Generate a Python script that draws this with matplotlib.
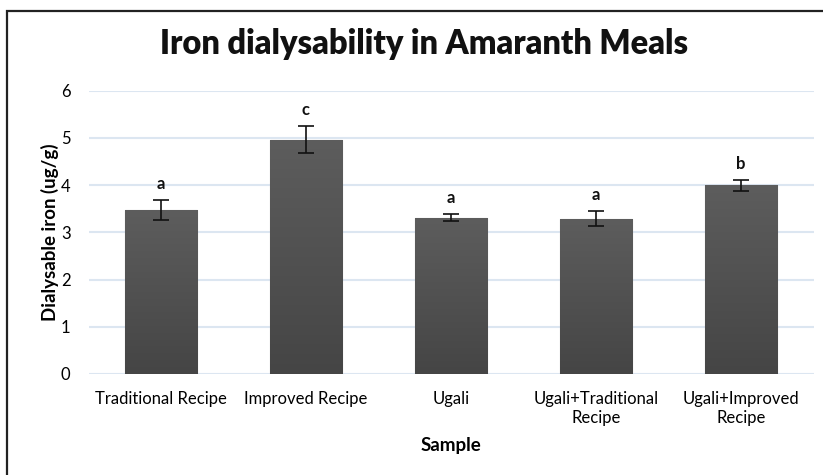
import numpy as np
import matplotlib
matplotlib.use("Agg")
import matplotlib.pyplot as plt
from matplotlib.patches import Rectangle

categories = ["Traditional Recipe", "Improved Recipe", "Ugali",
              "Ugali+Traditional\nRecipe", "Ugali+Improved\nRecipe"]
values = [3.47, 4.96, 3.31, 3.29, 3.99]
errors = [0.21, 0.28, 0.07, 0.15, 0.11]
letters = ["a", "c", "a", "a", "b"]
yticks = [0, 1, 2, 3, 4, 5, 6]

FONT = "Lato"
plt.rcParams["font.family"] = [FONT, "DejaVu Sans"]

W, H = 823, 475
fig = plt.figure(figsize=(W / 100, H / 100), dpi=100)
fig.patch.set_facecolor("white")

# outer chart frame (extends past the right/bottom edge as in the reference)
fig.patches.append(Rectangle((7 / W, -0.1), 1.2, 1 - 11 / H + 0.1,
                             transform=fig.transFigure, fill=False,
                             edgecolor="#222222", linewidth=1.6))

ax = fig.add_axes([88.5 / W, 1 - 374 / H, (813.5 - 88.5) / W, (374 - 90.5) / H])
x = np.arange(len(categories))
bars = ax.bar(x, values, width=0.503, color="#525252", edgecolor="#8a8a8a",
              linewidth=0.8, zorder=3)

# vertical gradient inside each bar
grad = np.linspace(0, 1, 256).reshape(-1, 1)
cmap = matplotlib.colors.LinearSegmentedColormap.from_list("g", ["#454545", "#5d5d5d"])
for b in bars:
    im = ax.imshow(grad, cmap=cmap, aspect="auto", origin="lower",
                   extent=[b.get_x(), b.get_x() + b.get_width(), 0, b.get_height()],
                   zorder=3.5)
    im.set_clip_path(b)

ax.errorbar(x, values, yerr=errors, fmt="none", ecolor="#111111",
            elinewidth=1.2, capsize=5.5, capthick=1.2, zorder=5)

for xi, v, e, t in zip(x, values, errors, letters):
    ax.annotate(t, (xi, v + e), xytext=(0, 6), textcoords="offset points",
                ha="center", va="bottom", fontsize=12, fontweight="bold",
                color="#111111")

ax.set_xlim(-0.5, len(categories) - 0.5)
ax.set_ylim(0, 6)
ax.set_yticks(yticks)
ax.set_yticklabels([str(t) for t in yticks], fontsize=12)
ax.set_xticks(x)
ax.set_xticklabels(categories, fontsize=12, linespacing=1.25)
ax.tick_params(length=0)
ax.tick_params(axis="x", pad=12)
ax.tick_params(axis="y", pad=13)
ax.grid(axis="y", color="#dce6f1", linewidth=1.5, zorder=0)
for s in ax.spines.values():
    s.set_visible(False)
ax.set_axisbelow(True)

ax.set_ylabel("Dialysable iron (ug/g)", fontsize=13.5, fontweight="bold", labelpad=1)
ax.set_xlabel("Sample", fontsize=13.5, fontweight="bold", labelpad=8)

fig.text(424 / W, 1 - 54 / H, "Iron dialysability in Amaranth Meals",
         ha="center", va="baseline", fontsize=23.5, fontweight="heavy", color="#111111")

fig.savefig("out.png", dpi=100)
